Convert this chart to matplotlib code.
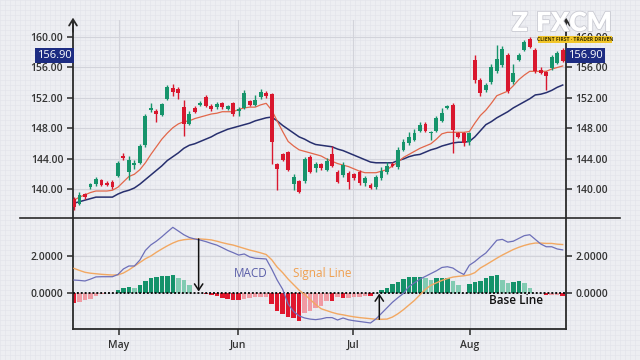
import numpy as np
import matplotlib
matplotlib.use('Agg')
import matplotlib.pyplot as plt
from matplotlib.lines import Line2D
from matplotlib.patches import Rectangle
import matplotlib.patheffects as pe

# ---------------- data ----------------
opens = [138.8,138.1,139.4,140.3,140.7,141.2,140.9,141.0,141.8,144.4,
         142.3,143.2,143.5,145.8,150.4,150.3,149.8,151.9,153.3,153.2,
         150.8,148.6,150.7,151.1,152.1,151.0,150.8,151.3,150.6,151.3,
         150.3,150.7,151.6,151.1,152.1,152.6,152.5,143.3,144.6,144.9,
         140.7,141.1,141.1,144.3,142.8,143.3,142.6,144.6,142.3,141.9,
         142.2,142.0,142.3,140.9,140.6,140.3,141.5,142.3,143.3,142.9,
         145.2,146.1,146.5,147.7,148.6,147.4,147.7,149.0,150.7,151.1,
         147.4,147.4,146.2,157.0,154.4,153.0,154.1,155.5,156.3,157.6,
         154.1,157.0,158.3,159.7,158.3,155.7,155.4,155.9,156.6,158.3]
closes = [137.7,139.3,139.0,140.7,141.4,140.6,140.6,140.3,143.5,144.1,
          143.9,143.5,145.7,149.6,150.7,149.9,151.2,153.4,152.8,152.7,
          148.6,149.9,150.2,151.3,151.0,150.6,151.2,150.8,150.9,149.9,
          150.5,152.7,151.1,151.7,152.8,152.3,146.2,142.7,143.9,142.6,
          141.6,139.7,144.0,142.3,143.3,142.8,143.7,143.1,141.0,143.2,
          141.0,141.5,140.9,141.5,140.2,141.6,142.4,143.1,143.1,145.2,
          146.2,146.9,147.4,148.5,147.7,147.5,149.4,150.0,150.9,147.8,
          146.9,146.1,147.4,154.4,152.7,153.7,156.1,157.1,158.4,152.9,
          155.3,157.6,159.3,158.7,155.5,155.3,154.9,157.4,157.9,156.9]
highs = [139.0,139.7,139.6,140.9,141.7,141.4,141.1,141.2,143.8,144.8,
         144.4,143.9,146.0,149.9,151.4,150.6,151.4,153.7,153.8,153.4,
         151.7,150.3,150.9,151.6,152.4,151.2,151.5,151.5,151.1,151.5,
         150.8,153.0,151.8,152.4,153.2,152.9,152.7,143.5,144.8,145.1,
         142.0,141.3,144.3,144.5,143.6,143.5,144.1,145.7,142.5,143.6,
         142.4,142.2,142.5,141.8,140.8,141.9,142.9,143.6,143.6,145.6,
         146.6,147.6,147.9,148.9,148.8,147.7,149.6,150.7,151.1,151.3,
         147.6,147.6,147.6,157.6,154.6,154.0,156.4,158.9,158.8,157.9,
         156.4,157.9,159.6,160.0,158.5,156.0,155.6,157.7,158.2,158.6]
lows = [137.3,137.9,138.8,140.1,140.5,140.4,140.4,140.1,141.6,143.9,
        141.2,142.7,143.3,145.6,150.2,148.8,149.6,151.7,152.2,151.9,
        147.0,148.4,150.0,150.9,150.8,150.3,150.6,150.5,150.4,149.6,
        149.6,150.5,150.9,150.9,151.9,152.0,143.3,139.9,143.7,142.4,
        139.9,139.5,140.9,142.1,142.3,142.6,142.4,142.9,140.8,141.7,
        140.0,141.3,140.6,140.4,140.0,140.1,141.2,142.0,142.9,142.7,
        145.0,145.9,146.3,147.5,147.5,146.5,147.5,148.8,150.5,144.8,
        146.7,145.7,145.9,154.0,152.3,152.8,153.9,155.3,156.1,152.6,
        153.9,156.8,158.1,158.5,155.3,155.1,153.0,155.7,156.4,156.7]

ma_fast = [138.6,139.0,139.3,139.6,139.8,139.8,139.8,139.9,140.3,141.0,
           141.7,142.0,142.6,143.5,144.6,145.6,146.6,147.4,148.1,148.6,
           148.9,149.0,149.3,149.5,149.7,149.9,150.0,150.2,150.2,150.2,
           150.5,150.7,150.8,150.8,151.1,151.3,150.4,149.0,147.6,146.3,
           145.7,145.2,145.0,144.8,144.6,144.4,144.0,143.7,143.4,143.2,
           143.0,142.7,142.4,142.2,142.2,142.2,142.4,142.6,143.1,143.6,
           144.2,144.6,145.0,145.4,145.7,146.0,146.6,147.3,147.5,147.5,
           147.5,147.5,147.6,148.7,149.7,150.4,151.3,152.3,152.6,152.9,
           153.6,154.4,155.0,155.5,155.5,155.5,155.5,155.8,156.0,156.2]
ma_slow = [138.2,138.4,138.6,138.8,139.0,139.0,139.0,139.0,139.4,139.7,
           139.9,140.2,140.7,141.3,141.9,142.5,143.1,143.8,144.3,144.8,
           145.4,145.8,146.0,146.3,146.6,146.9,147.3,147.6,147.9,148.1,
           148.3,148.5,148.7,149.0,149.2,149.4,149.5,149.0,148.4,147.9,
           147.4,146.9,146.6,146.2,145.9,145.8,145.7,145.6,145.3,145.1,
           144.8,144.5,144.2,143.9,143.6,143.5,143.5,143.5,143.5,143.8,
           144.0,144.3,144.5,144.6,144.9,145.2,145.4,145.7,145.9,146.1,
           146.2,146.2,146.3,146.9,147.7,148.5,148.9,149.4,149.8,150.2,
           150.7,151.1,151.5,151.9,152.4,152.5,152.7,153.0,153.4,153.7]

macd = [0.70,0.68,0.65,0.75,0.87,0.88,0.88,0.88,1.00,1.30,
        1.46,1.46,1.78,2.30,2.60,2.80,3.04,3.30,3.55,3.35,
        3.15,3.00,2.92,2.86,2.78,2.68,2.59,2.45,2.30,2.18,
        2.05,2.11,1.95,1.88,1.86,1.84,1.30,0.70,0.20,-0.60,
        -1.00,-1.24,-1.35,-1.41,-1.44,-1.40,-1.33,-1.33,-1.46,-1.35,
        -1.45,-1.50,-1.54,-1.58,-1.62,-1.40,-1.10,-0.80,-0.50,-0.25,
        -0.02,0.35,0.55,0.75,0.90,1.05,1.20,1.38,1.42,1.35,
        1.15,1.00,1.50,1.70,1.95,2.16,2.50,2.85,2.90,2.75,
        2.80,2.95,3.10,3.15,2.90,2.65,2.50,2.50,2.38,2.33]
signal = [1.33,1.22,1.12,1.07,1.04,1.01,0.99,0.97,0.98,1.08,
          1.25,1.45,1.65,1.85,2.00,2.20,2.38,2.55,2.70,2.82,
          2.88,2.91,2.92,2.92,2.90,2.87,2.80,2.72,2.65,2.59,
          2.50,2.41,2.32,2.25,2.17,2.08,1.80,1.40,1.10,0.75,
          0.45,0.15,-0.08,-0.35,-0.62,-0.85,-0.95,-1.05,-1.13,-1.18,
          -1.24,-1.29,-1.33,-1.36,-1.39,-1.42,-1.42,-1.41,-1.30,-1.12,
          -0.90,-0.65,-0.40,-0.10,0.20,0.42,0.55,0.68,0.78,0.86,
          0.90,0.93,0.98,1.10,1.35,1.52,1.70,1.88,2.05,2.20,
          2.35,2.47,2.57,2.65,2.70,2.70,2.68,2.68,2.64,2.62]
hist = [-0.55,-0.48,-0.40,-0.30,-0.18,-0.07,0.0,0.0,0.14,0.29,
        0.32,0.29,0.41,0.65,0.80,0.86,0.90,0.94,0.95,0.83,
        0.68,0.41,0.0,0.0,-0.08,-0.12,-0.18,-0.25,-0.32,-0.38,
        -0.40,-0.30,-0.25,-0.23,-0.22,-0.21,-0.60,-0.96,-1.14,-1.29,
        -1.36,-1.50,-1.10,-0.95,-0.80,-0.70,-0.42,-0.45,-0.22,-0.26,
        -0.25,-0.24,-0.22,-0.15,-0.16,0.0,0.18,0.29,0.47,0.59,
        0.77,0.86,0.87,0.88,0.81,0.68,0.80,0.81,0.82,0.65,
        0.41,0.0,0.50,0.59,0.63,0.81,0.90,0.99,0.68,0.55,
        0.60,0.66,0.54,0.29,0.0,0.0,-0.13,-0.10,-0.09,-0.18]

month_labels = ['May', 'Jun', 'Jul', 'Aug']
month_pos = [8.2, 29.9, 50.8, 72.1]
price_ticks = [140, 144, 148, 152, 156, 160]
macd_ticks = [0.0, 2.0]
last_price = 156.90
cross_idx = [22.7, 55.6]

# ---------------- style ----------------
plt.rcParams['font.family'] = ['Open Sans', 'DejaVu Sans']
BG = '#edeef2'
GREEN = '#16946b'
RED = '#d9172e'
H_DG = '#14926a'
H_LG = '#82cbb2'
H_DR = '#e0172d'
H_LR = '#f09aa3'
INK = '#2a2a2a'
TXT = '#333333'

fig = plt.figure(figsize=(6.4, 3.6), dpi=100)
fig.patch.set_facecolor(BG)

# graph-paper background
bg = fig.add_axes([0, 0, 1, 1], zorder=-10)
bg.set_xlim(0, 640)
bg.set_ylim(360, 0)
bg.axis('off')
for g in np.arange(0, 641, 5):
    bg.axvline(g, color='#e2e3ea', lw=0.4)
for g in np.arange(0, 361, 5):
    bg.axhline(g, color='#e2e3ea', lw=0.4)

W = 640.0
H = 360.0
L, R = 73, 566
ax1 = fig.add_axes([L / W, 1 - 218 / H, (R - L) / W, (218 - 20) / H])
ax2 = fig.add_axes([L / W, 1 - 329 / H, (R - L) / W, (329 - 218) / H])
for ax in (ax1, ax2):
    ax.set_facecolor('none')
    ax.set_xlim(-0.18, 89.6)

x = np.arange(len(opens))
o = np.array(opens); c = np.array(closes)
hi = np.array(highs); lo = np.array(lows)
up = c >= o
cols = np.where(up, GREEN, RED)

# ---- price panel ----
ax1.set_ylim(136.26, 162.23)
ax1.set_yticks(price_ticks)
ax1.set_yticklabels(['%.2f' % t for t in price_ticks])
ax1.set_xticks(month_pos)
ax1.grid(True, color='#d2d3da', lw=0.8, zorder=0)
ax1.tick_params(axis='x', length=0, labelbottom=False)
ax1.tick_params(axis='y', left=True, right=True, labelleft=True, labelright=True,
                length=4, width=1.1, color=INK, labelsize=7.5, labelcolor=TXT, pad=3)
for s in ('top', 'bottom'):
    ax1.spines[s].set_visible(False)
for s in ('left', 'right'):
    ax1.spines[s].set_color(INK)
    ax1.spines[s].set_linewidth(1.3)

ax1.plot(x, ma_slow, color='#272f6e', lw=1.1, zorder=2)
ax1.plot(x, ma_fast, color='#e2674a', lw=0.9, zorder=2)
ax1.vlines(x, lo, hi, colors=cols, lw=1.0, zorder=3)
body = np.maximum(np.abs(c - o), 0.12)
ax1.bar(x, body, bottom=np.minimum(o, c), width=0.7, color=cols, zorder=4, linewidth=0)

for xa in (0, 1):
    ax1.annotate('', xy=(xa, 1.012), xytext=(xa, 0.94), xycoords='axes fraction',
                 arrowprops=dict(arrowstyle='->,head_length=0.45,head_width=0.28',
                                 color=INK, lw=1.3, shrinkA=0, shrinkB=0),
                 annotation_clip=False)

# price boxes
ax1.annotate('%.2f' % last_price, xy=(-0.0375, last_price), xycoords=('axes fraction', 'data'),
             xytext=(0, 3.6), textcoords='offset points', ha='center', va='center',
             color='white', fontsize=8, zorder=10,
             bbox=dict(boxstyle='square,pad=0.2', fc='#1d2c82', ec='none'),
             annotation_clip=False)
ax1.annotate('%.2f' % last_price, xy=(1.0395, last_price), xycoords=('axes fraction', 'data'),
             xytext=(0, 3.6), textcoords='offset points', ha='center', va='center',
             color='white', fontsize=8, zorder=10,
             bbox=dict(boxstyle='square,pad=0.2', fc='#1d2c82', ec='none'),
             annotation_clip=False)

# ---- MACD panel ----
ax2.set_ylim(-1.946, 4.054)
ax2.set_yticks(macd_ticks)
ax2.set_yticklabels(['%.4f' % t for t in macd_ticks])
ax2.set_xticks(month_pos)
ax2.set_xticklabels(month_labels)
ax2.grid(True, color='#d2d3da', lw=0.8, zorder=0)
ax2.tick_params(axis='y', left=True, right=True, labelleft=True, labelright=True,
                length=4, width=1.1, color=INK, labelsize=7.5, labelcolor=TXT, pad=3)
ax2.tick_params(axis='x', length=4, width=1.1, color=INK, labelsize=7.5,
                labelcolor=TXT, pad=4)
ax2.spines['top'].set_visible(False)
for s in ('left', 'right', 'bottom'):
    ax2.spines[s].set_color(INK)
    ax2.spines[s].set_linewidth(1.3)

hv = np.array(hist)
hcols = []
for i, v in enumerate(hv):
    prev = hv[i - 1] if i > 0 else 0.0
    if v >= 0:
        hcols.append(H_DG if v >= prev else H_LG)
    else:
        hcols.append(H_DR if v <= prev else H_LR)
ax2.bar(x, hv, width=0.82, color=hcols, zorder=2, linewidth=0)
ax2.axhline(0, color='#111111', lw=1.4, ls=(0, (1.0, 1.0)), zorder=3)
ax2.plot(x, signal, color='#f2a862', lw=1.0, zorder=4)
ax2.plot(x, macd, color='#6d6fb8', lw=0.9, zorder=5)

# crossover arrows
ya = np.interp(cross_idx[0], x, signal)
ax2.annotate('', xy=(cross_idx[0], 0.08), xytext=(cross_idx[0], ya),
             arrowprops=dict(arrowstyle='->,head_length=0.45,head_width=0.3',
                             color='#111', lw=1.1, shrinkA=0, shrinkB=0), zorder=6)
yb = np.interp(cross_idx[1], x, signal)
ax2.annotate('', xy=(cross_idx[1], -0.03), xytext=(cross_idx[1], yb),
             arrowprops=dict(arrowstyle='->,head_length=0.45,head_width=0.3',
                             color='#111', lw=1.1, shrinkA=0, shrinkB=0), zorder=6)

ax2.text(32.1, 1.08, 'MACD', color='#5a5ea8', fontsize=8.5, ha='center', va='center')
ax2.text(45.3, 1.08, 'Signal Line', color='#f0a050', fontsize=8.5, ha='center', va='center')
ax2.text(80.5, -0.42, 'Base Line', color='#111', fontsize=8.5, ha='center', va='center',
         fontweight='semibold')

for ax in (ax1, ax2):
    for lab in ax.get_yticklabels() + ax.get_xticklabels():
        lab.set_fontweight('semibold')

# separator line
fig.add_artist(Line2D([20 / W, 620 / W], [1 - 218 / H] * 2, color=INK, lw=1.2))

# logo
shadow = [pe.withStroke(linewidth=1.2, foreground='#c9cad2')]
fig.text(574 / W, 1 - 23 / H, 'FXCM', color='white', fontsize=19, fontweight='heavy',
         ha='center', va='center', family=['Lato', 'DejaVu Sans'], path_effects=shadow, zorder=20)
fig.text(520 / W, 1 - 23 / H, 'Z', color='white', fontsize=19, fontweight='heavy',
         ha='center', va='center', family=['Lato', 'DejaVu Sans'], path_effects=shadow, zorder=20)
fig.patches.append(Rectangle((538 / W, 1 - 42.5 / H), 74 / W, 6.5 / H, transform=fig.transFigure,
                             fc='#f2c62a', ec='none', zorder=19))
fig.text(575 / W, 1 - 39.3 / H, 'CLIENT FIRST · TRADER DRIVEN', color='#3a3000', fontsize=3.6,
         ha='center', va='center', fontweight='bold', zorder=21)

fig.savefig('out.png', dpi=100, facecolor=BG)
